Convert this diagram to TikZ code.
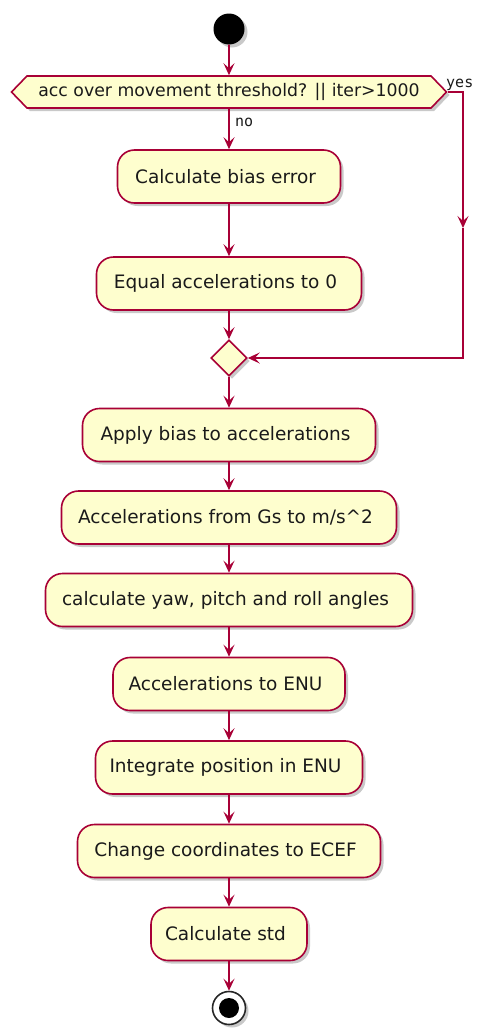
\documentclass[tikz,border=0pt]{standalone}
\usepackage{fontspec}
\setmainfont{DejaVu Sans}
\setmonofont{DejaVu Sans Mono}
\usetikzlibrary{arrows.meta,shapes.geometric,shapes.symbols,shadows}
\definecolor{pfill}{HTML}{FEFECE}
\definecolor{pline}{HTML}{A80036}
\definecolor{ptext}{HTML}{1A1A1A}
\tikzset{
  shad/.style={drop shadow={shadow xshift=3pt,shadow yshift=-3pt,opacity=0.3,fill=black!70}},
  actbox/.style={draw=pline,fill=pfill,line width=1.6pt,rounded corners=17pt,
    minimum height=53pt,inner sep=0pt,text=ptext,font=\fontsize{18.5}{21}\selectfont,shad,
    execute at end node={\hspace{7pt}}},
  flow/.style={draw=pline,line width=1.6pt,-{Stealth[length=12pt,width=11pt,inset=5pt]}},
  lbl/.style={text=ptext,font=\ttfamily\fontsize{15}{17}\selectfont,inner sep=0pt}
}
\begin{document}
\begin{tikzpicture}[x=1pt,y=-1pt]
\useasboundingbox (0,0) rectangle (477,1028);
\node[circle,fill=black,minimum size=31pt,inner sep=0pt,shad] (start) at (229,29) {};
\node[signal,signal to=west and east,signal pointer angle=92,draw=pline,fill=pfill,line width=1.6pt,
  minimum width=435pt,minimum height=32pt,inner sep=0pt,text=ptext,font=\fontsize{17.3}{19}\selectfont,shad]
  (dec) at (229,92) {acc over movement threshold? || iter>1000};
\node[actbox,minimum width=223pt] (bias) at (229,176.5) {Calculate bias error};
\node[actbox,minimum width=265pt] (equal) at (229,283.5) {Equal accelerations to 0};
\node[diamond,draw=pline,fill=pfill,line width=1.6pt,minimum width=36pt,minimum height=36pt,inner sep=0pt,shad] (merge) at (229,358) {};
\node[actbox,minimum width=293pt] (apply) at (229,435) {Apply bias to accelerations};
\node[actbox,minimum width=335pt] (gs) at (229,517.5) {Accelerations from Gs to m/s\^{}2};
\node[actbox,minimum width=367pt] (yaw) at (229,600) {calculate yaw, pitch and roll angles};
\node[actbox,minimum width=232pt] (enu) at (229,684) {Accelerations to ENU};
\node[actbox,minimum width=267pt] (integ) at (229,767.5) {Integrate position in ENU};
\node[actbox,minimum width=303pt] (ecef) at (229,851) {Change coordinates to ECEF};
\node[actbox,minimum width=156pt] (std) at (229,934) {Calculate std};
\node[circle,draw=black!85,fill=white,line width=1.6pt,minimum size=33pt,inner sep=0pt,shad] (stop) at (229,1008) {};
\node[circle,fill=black,minimum size=20pt,inner sep=0pt] (stopin) at (stop) {};
\coordinate (ycorner) at (463,92);
\coordinate (ymid) at (463,228);
\coordinate (ybot) at (463,358);
\node[lbl,anchor=west] (yes) at (446,85) {yes};
\node[lbl,anchor=west] (no) at (235,122) {no};
\draw[flow] (start) -- (dec);
\draw[flow] (dec) -- (bias);
\draw[flow] (bias) -- (equal);
\draw[flow] (equal) -- (merge);
\draw[flow] (dec.east) -- (ycorner) -- (ymid);
\draw[flow] (ymid) -- (ybot) -- (merge.east);
\draw[flow] (merge) -- (apply);
\draw[flow] (apply) -- (gs);
\draw[flow] (gs) -- (yaw);
\draw[flow] (yaw) -- (enu);
\draw[flow] (enu) -- (integ);
\draw[flow] (integ) -- (ecef);
\draw[flow] (ecef) -- (std);
\draw[flow] (std) -- (stop);
\end{tikzpicture}
\end{document}
